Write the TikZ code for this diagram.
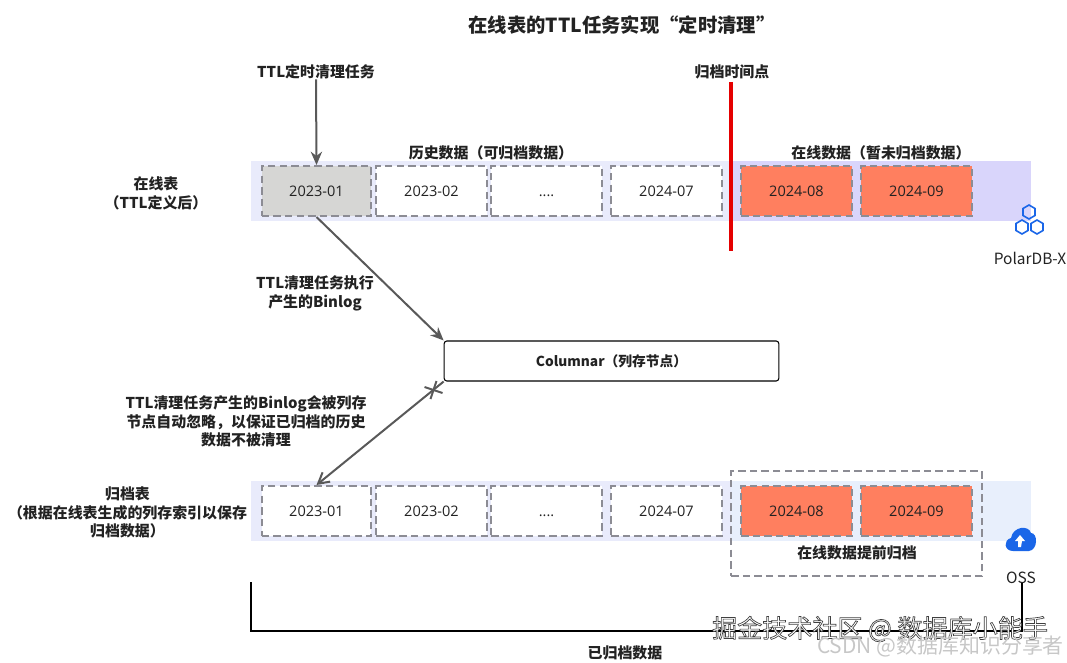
\documentclass[tikz,border=0pt]{standalone}
\usepackage{fontspec}
\setmainfont{Noto Sans CJK SC}
\newfontfamily\datefont{Open Sans}
\usetikzlibrary{arrows.meta}
\definecolor{bandL}{HTML}{E9EBFB}
\definecolor{bandR}{HTML}{D9D5FB}
\definecolor{bandB}{HTML}{E8EFFC}
\definecolor{dashc}{HTML}{8C8C94}
\definecolor{orangec}{HTML}{FF7F5F}
\definecolor{grayc}{HTML}{D6D6D4}
\definecolor{linec}{HTML}{595959}
\definecolor{bluec}{HTML}{1A66E8}
\definecolor{textc}{HTML}{222222}
\tikzset{
  x=0.75pt,y=-0.75pt,
  cell/.style={draw=dashc,line width=1.5pt,dash pattern=on 5.5pt off 3.2pt,minimum height=37.5pt,inner sep=0,text height=7.6pt,text depth=0pt,font=\datefont\fontsize{10.9}{12}\selectfont,text=textc},
  cellw/.style={cell,fill=white,minimum width=83pt},
  cello/.style={cell,fill=orangec,minimum width=83pt},
  lab/.style={font=\bfseries\fontsize{11.2}{14}\selectfont,text=textc,align=center,inner sep=0},
  plain/.style={font=\fontsize{11.6}{13}\selectfont,text=textc,align=center,inner sep=0},
  conn/.style={draw=linec,line width=1.5pt},
  hexa/.style={draw=bluec,line width=1.2pt},
}
\newcommand{\hexagon}[2]{\draw[hexa] (#1,#2-7) -- (#1+6,#2-3.5) -- (#1+6,#2+3.5) -- (#1,#2+7) -- (#1-6,#2+3.5) -- (#1-6,#2-3.5) -- cycle;}
\begin{document}
\begin{tikzpicture}
\useasboundingbox (0,0) rectangle (1067,663);
% bands
\fill[bandL] (251,161) rectangle (731,221);
\fill[bandR] (731,161) rectangle (1031,221);
\fill[bandL] (251,481) rectangle (731,541);
\fill[bandB] (731,481) rectangle (1031,541);
% top row
\node[cell,fill=grayc,minimum width=82pt] (a1) at (316.5,191) {2023-01};
\node[cellw] (a2) at (431.5,191) {2023-02};
\node[cellw] (a3) at (546.5,191) {....};
\node[cellw] (a4) at (666.5,191) {2024-07};
\node[cello] (a5) at (796.5,191) {2024-08};
\node[cello] (a6) at (916.5,191) {2024-09};
% bottom row
\node[cellw,minimum width=82pt] (b1) at (316.5,511) {2023-01};
\node[cellw] (b2) at (431.5,511) {2023-02};
\node[cellw] (b3) at (546.5,511) {....};
\node[cellw] (b4) at (666.5,511) {2024-07};
\node[cello] (b5) at (796.5,511) {2024-08};
\node[cello] (b6) at (916.5,511) {2024-09};
% outer dashed group
\node[draw=dashc,line width=1.5pt,dash pattern=on 5.5pt off 3.2pt,minimum width=188pt,minimum height=78.5pt,inner sep=0] (grp) at (856.5,523.5) {};
% red line
\coordinate (r1) at (731,82);
\coordinate (r2) at (731,251);
\draw[red!90!black,line width=3pt] (r1) -- (r2);
% columnar
\node[draw=black,rounded corners=2pt,line width=0.8pt,fill=white,minimum width=251pt,minimum height=30pt,inner sep=0,font=\bfseries\fontsize{10.3}{12}\selectfont,text=textc] (col) at (611.5,361) {Columnar（列存节点）};
% labels
\node[font=\bfseries\fontsize{14.5}{18}\selectfont,text=textc,inner sep=0] (title) at (622,25) {在线表的TTL任务实现“定时清理”};
\node[lab] (ttl) at (316,72) {TTL定时清理任务};
\node[lab] (tp) at (732,72) {归档时间点};
\node[lab] (hist) at (491,153) {历史数据（可归档数据）};
\node[lab] (onl) at (881,153) {在线数据（暂未归档数据）};
\node[lab] (t1) at (156,193.5) {在线表\\（TTL定义后）};
\node[lab] (t2) at (315,293.5) {TTL清理任务执行\\产生的Binlog};
\node[lab] (t3) at (246,421.5) {TTL清理任务产生的Binlog会被列存\\节点自动忽略，以保证已归档的历史\\数据不被清理};
\node[lab] (t4) at (127.5,512.5) {归档表\\（根据在线表生成的列存索引以保存\\归档数据）};
\node[lab] (t5) at (857,552.5) {在线数据提前归档};
\node[lab] (t6) at (625,652.5) {已归档数据};
\node[plain] (pdb) at (1030,258) {PolarDB-X};
\node[plain] (oss) at (1021,578) {OSS};
% connectors
\draw[conn,-{Stealth[length=10pt,width=8.5pt]}] (ttl.south) -- (a1.north);
\draw[conn,-{Stealth[length=10pt,width=8.5pt]}] (a1.south) -- (col.north west);
\draw[conn,-{Straight Barb[length=8pt,width=9pt]}] (col.south west) -- (b1.north);
\coordinate (cr) at (433.5,390);
\draw[conn] ([shift={(-9,-3)}]cr) -- ([shift={(9,3)}]cr);
\draw[conn] ([shift={(-3,9)}]cr) -- ([shift={(3,-9)}]cr);
\coordinate (l1) at (251,582);
\coordinate (l2) at (1022,583);
\draw[black,line width=1.5pt] (l1) -- (251,631) -- (1022,631) -- (l2);
% icons
\hexagon{1029}{212}
\hexagon{1022}{227}
\hexagon{1037}{227}
\fill[bluec] (1013,551) .. controls (1004,551) and (1003,540) .. (1011,538)
  .. controls (1013,526) and (1029,525) .. (1031,533)
  .. controls (1038,533) and (1038,550) .. (1029,551) -- cycle;
\fill[white] (1020,535) -- (1025,541) -- (1022,541) -- (1021,547) -- (1018,547) -- (1018,541) -- (1015,541) -- cycle;
% watermarks
\node[inner sep=0,font=\fontsize{18.8}{22}\selectfont,text=white] (wm1) at (880,629) {\special{pdf:code q 2 Tr 0.5 w 0.25 0.25 0.25 RG}掘金技术社区 @ 数据库小能手\special{pdf:code 0 Tr Q}};
\node[inner sep=0,font=\fontsize{15.7}{18}\selectfont,text=black!22] (wm2) at (940.5,646) {CSDN @数据库知识分享者};
\end{tikzpicture}
\end{document}
